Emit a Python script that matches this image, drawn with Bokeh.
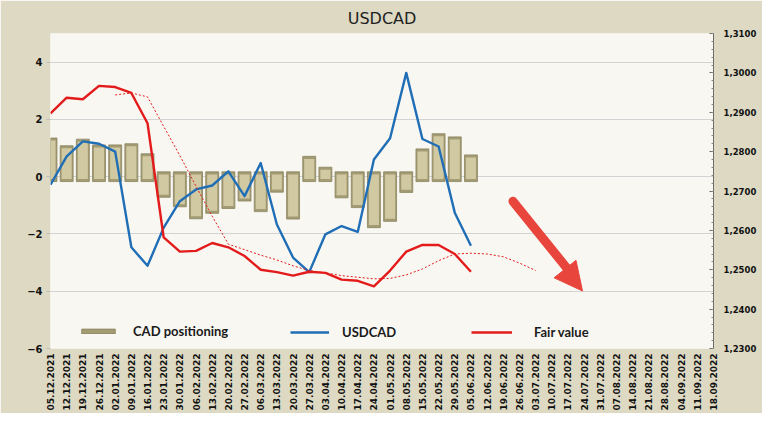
import math
import numpy as np
from bokeh.plotting import figure
from bokeh.models import (Range1d, LinearAxis, FixedTicker, CustomJSTickFormatter,
                          Legend, LegendItem, Arrow, NormalHead, ColumnDataSource)
from bokeh.embed import file_html
from bokeh.resources import INLINE

# ---------------- data ----------------
dates = ["05.12.2021", "12.12.2021", "19.12.2021", "26.12.2021", "02.01.2022", "09.01.2022",
         "16.01.2022", "23.01.2022", "30.01.2022", "06.02.2022", "13.02.2022", "20.02.2022",
         "27.02.2022", "06.03.2022", "13.03.2022", "20.03.2022", "27.03.2022", "03.04.2022",
         "10.04.2022", "17.04.2022", "24.04.2022", "01.05.2022", "08.05.2022", "15.05.2022",
         "22.05.2022", "29.05.2022", "05.06.2022", "12.06.2022", "19.06.2022", "26.06.2022",
         "03.07.2022", "10.07.2022", "17.07.2022", "24.07.2022", "31.07.2022", "07.08.2022",
         "14.08.2022", "21.08.2022", "28.08.2022", "04.09.2022", "11.09.2022", "18.09.2022"]

cad_positioning = [1.35, 1.08, 1.31, 1.11, 1.11, 1.15, 0.80, -0.72, -1.05, -1.47, -1.28, -1.11,
                   -0.85, -1.22, -0.54, -1.48, 0.71, 0.33, -0.74, -1.08, -1.78, -1.56, -0.55,
                   0.97, 1.50, 1.39, 0.76]

usdcad = [1.2716, 1.2788, 1.2826, 1.2820, 1.2800, 1.2557, 1.2510, 1.2607, 1.2674, 1.2704,
          1.2714, 1.2750, 1.2687, 1.2771, 1.2615, 1.2531, 1.2494, 1.2590, 1.2611, 1.2596,
          1.2780, 1.2834, 1.3000, 1.2832, 1.2813, 1.2645, 1.2561]

fair_value = [1.2897, 1.2937, 1.2933, 1.2967, 1.2964, 1.2949, 1.2872, 1.2582, 1.2546, 1.2548,
              1.2568, 1.2557, 1.2535, 1.2500, 1.2494, 1.2485, 1.2495, 1.2492, 1.2475, 1.2472,
              1.2458, 1.2498, 1.2546, 1.2563, 1.2563, 1.2540, 1.2495]

# dotted trend of fair value, starting at week index 4 (02.01.2022)
fair_value_trend_start = 4
fair_value_trend = [1.2944, 1.2949, 1.2939, 1.2864, 1.2790, 1.2712, 1.2636, 1.2565, 1.2551,
                    1.2537, 1.2525, 1.2510, 1.2498, 1.2492, 1.2485, 1.2481, 1.2477, 1.2478,
                    1.2487, 1.2502, 1.2523, 1.2540, 1.2542, 1.2540, 1.2533, 1.2517, 1.2498]

left_ticks = [-6, -4, -2, 0, 2, 4]
right_ticks = [1.23, 1.24, 1.25, 1.26, 1.27, 1.28, 1.29, 1.30, 1.31]

# ---------------- styling ----------------
OUTER_BG = "#DDD9C3"
PLOT_BG = "#F8F7F2"
BLUE = "#1F6EB6"
RED = "#E31B1B"
BAR_FACE = "#D0C9A2"
BAR_EDGE = "#A29B73"
ARROW = "#E8453C"
AXIS_FONT = "DejaVu Sans"

p = figure(width=762, height=413, output_backend="svg", toolbar_location=None,
           x_range=Range1d(0, len(dates) - 1), y_range=Range1d(-6, 5),
           min_border_left=50, min_border_right=49, min_border_top=33, min_border_bottom=63)
p.background_fill_color = PLOT_BG
p.border_fill_color = OUTER_BG
p.outline_line_color = None

p.title.text = "USDCAD"
p.title.align = "center"
p.title.text_font = "DejaVu Sans"
p.title.text_font_size = "16px"
p.title.text_font_style = "normal"
p.title.text_color = "#222222"
p.title.standoff = 12

p.extra_y_ranges = {"usd": Range1d(1.23, 1.31)}

# grid
p.xgrid.grid_line_color = None
p.ygrid.ticker = FixedTicker(ticks=left_ticks)
p.ygrid.grid_line_color = "#D3D3D3"
p.ygrid.grid_line_width = 1

# left axis
ly = p.yaxis[0]
ly.ticker = FixedTicker(ticks=left_ticks)
ly.axis_line_color = None
ly.major_tick_line_color = "#BDBDBD"
ly.major_tick_out = 4
ly.major_tick_in = 0
ly.minor_tick_line_color = None
ly.major_label_text_font = AXIS_FONT
ly.major_label_text_font_style = "bold"
ly.major_label_text_font_size = "10px"
ly.major_label_text_color = "#111111"
ly.major_label_standoff = 4

# right axis
ry = LinearAxis(y_range_name="usd")
ry.ticker = FixedTicker(ticks=right_ticks,
                        minor_ticks=[round(1.23 + 0.002 * i, 4) for i in range(41)])
ry.formatter = CustomJSTickFormatter(code="return tick.toFixed(4).replace('.', ',');")
ry.axis_line_color = "#6B6B6B"
ry.major_tick_line_color = "#6B6B6B"
ry.major_tick_in = 4
ry.major_tick_out = 0
ry.minor_tick_line_color = "#8A8A8A"
ry.minor_tick_in = 2
ry.minor_tick_out = 0
ry.major_label_text_font = AXIS_FONT
ry.major_label_text_font_style = "bold"
ry.major_label_text_font_size = "8.5px"
ry.major_label_text_color = "#111111"
ry.major_label_standoff = 10
p.add_layout(ry, "right")

# bottom axis
bx = p.xaxis[0]
bx.ticker = FixedTicker(ticks=list(range(len(dates))))
bx.major_label_overrides = {i: d for i, d in enumerate(dates)}
bx.major_label_orientation = math.pi / 2
bx.axis_line_color = None
bx.major_tick_line_color = None
bx.major_tick_in = 0
bx.major_tick_out = 0
bx.minor_tick_line_color = None
bx.minor_tick_in = 0
bx.minor_tick_out = 0
bx.major_label_text_font = AXIS_FONT
bx.major_label_text_font_style = "bold"
bx.major_label_text_font_size = "9px"
bx.major_label_text_color = "#111111"
bx.major_label_standoff = 5

# ---------------- bars (bevelled look) ----------------
cad = np.array(cad_positioning)
xs = np.arange(len(cad))
sgn = np.sign(cad)
bar_src = ColumnDataSource(dict(x=xs, top=cad, bottom=-sgn * 0.17,
                                itop=cad - sgn * 0.09, ibottom=-sgn * 0.17 + sgn * 0.09))
r_bar = p.vbar(x="x", top="top", bottom="bottom", width=0.8, source=bar_src,
               fill_color=BAR_EDGE, line_color="#8A845E", line_width=0.8)
p.vbar(x="x", top="itop", bottom="ibottom", width=0.62, source=bar_src,
       fill_color=BAR_FACE, line_color=None)

# ---------------- lines ----------------
r_usd = p.line(np.arange(len(usdcad)), usdcad, y_range_name="usd",
               line_color=BLUE, line_width=2.4, line_join="round")
r_fair = p.line(np.arange(len(fair_value)), fair_value, y_range_name="usd",
                line_color=RED, line_width=2.4, line_join="round")
p.line(np.arange(fair_value_trend_start, fair_value_trend_start + len(fair_value_trend)),
       fair_value_trend, y_range_name="usd",
       line_color=RED, line_width=1, line_dash="2 2")

# ---------------- legends ----------------
def make_legend(label, renderer, loc, gw, gh, standoff):
    lg = Legend(items=[LegendItem(label=label, renderers=[renderer])],
                location=loc, orientation="horizontal",
                glyph_width=gw, glyph_height=gh, label_height=gh,
                label_standoff=standoff, padding=0, margin=0, spacing=0,
                background_fill_alpha=0, border_line_color=None,
                label_text_font="Lato", label_text_font_style="bold",
                label_text_font_size="13px", label_text_color="#1a1a1a")
    p.add_layout(lg, "center")

make_legend("CAD positioning", r_bar, (27, 9), 42, 6, 14)
make_legend("USDCAD", r_usd, (240, 8), 39, 16, 13)
make_legend("Fair value", r_fair, (421, 8), 41, 16, 22)

# ---------------- arrow ----------------
p.add_layout(Arrow(x_start=28.6, y_start=-0.86, x_end=32.3, y_end=-3.45,
                   line_color=ARROW, line_width=9, line_cap="round", end=None))
p.add_layout(Arrow(x_start=31.5, y_start=-3.0, x_end=32.9, y_end=-3.99,
                   line_color=ARROW, line_width=1, line_alpha=0.0,
                   end=NormalHead(size=28, fill_color=ARROW, line_color=ARROW,
                                  line_width=1)))

open("out.html", "w").write(file_html(p, INLINE))
